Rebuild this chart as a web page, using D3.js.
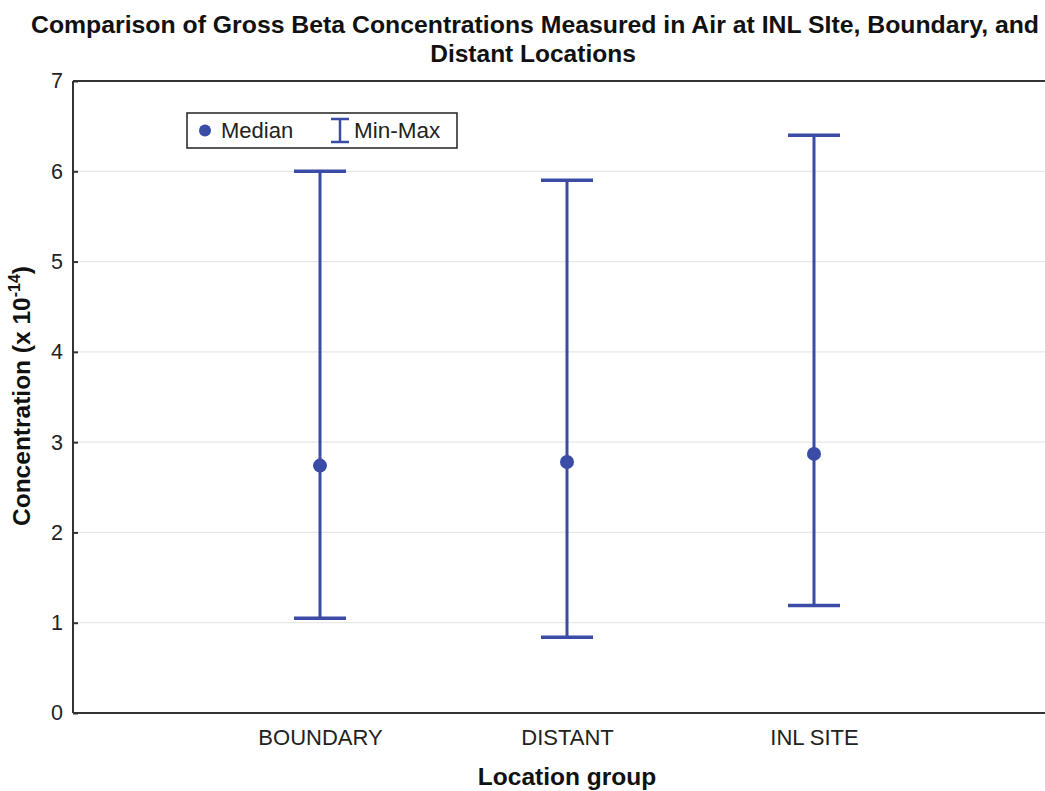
<!DOCTYPE html>
<html>
<head>
<meta charset="utf-8">
<script src="https://cdn.jsdelivr.net/npm/d3@7"></script>
<style>
  html, body { margin: 0; padding: 0; background: #fff; }
  svg { display: block; font-family: "Liberation Sans", Arial, sans-serif; }
</style>
</head>
<body>
<svg id="chart" width="1045" height="791"></svg>
<script>
// Gross beta concentrations (x 10^-14) by location group
const categories = ["BOUNDARY", "DISTANT", "INL SITE"];
const medians = [2.74, 2.78, 2.87];
const minima = [1.05, 0.84, 1.19];
const maxima = [6.0, 5.9, 6.4];
const yTicks = [0, 1, 2, 3, 4, 5, 6, 7];

const data = categories.map((c, i) => ({ cat: c, med: medians[i], lo: minima[i], hi: maxima[i] }));

const svg = d3.select("#chart");
const W = 1045, H = 791;
const margin = { left: 73, top: 81, bottom: 713, right: 1061 };
const blue = "#3a4ca6";
const FONT = "Liberation Sans, Arial, sans-serif";

const x = d3.scalePoint().domain(categories).range([margin.left, margin.right]).padding(1);
const y = d3.scaleLinear().domain([0, 7]).range([margin.bottom, margin.top]);

// Title
const title = svg.append("g").attr("font-weight", "bold").attr("text-anchor", "middle").attr("fill", "#111");
title.append("text").attr("x", 535).attr("y", 33).attr("font-size", 23.5)
  .attr("textLength", 1008).attr("lengthAdjust", "spacingAndGlyphs")
  .text("Comparison of Gross Beta Concentrations Measured in Air at INL SIte, Boundary, and");
title.append("text").attr("x", 533).attr("y", 62).attr("font-size", 24.5).text("Distant Locations");

// Grid lines
svg.append("g").selectAll("line").data(yTicks.filter(t => t > 0 && t < 7)).join("line")
  .attr("x1", margin.left).attr("x2", W)
  .attr("y1", d => y(d)).attr("y2", d => y(d))
  .attr("stroke", "#e8e8e8").attr("stroke-width", 1.2);

// Frame: left axis, bottom axis, top border
const frame = svg.append("g").attr("stroke", "#333").attr("stroke-width", 2).attr("fill", "none");
frame.append("line").attr("x1", margin.left).attr("x2", margin.left).attr("y1", margin.top).attr("y2", margin.bottom);
frame.append("line").attr("x1", margin.left).attr("x2", W).attr("y1", margin.bottom).attr("y2", margin.bottom);
frame.append("line").attr("x1", margin.left).attr("x2", W).attr("y1", margin.top).attr("y2", margin.top);

// Y axis ticks and labels
const yAxis = d3.axisLeft(y).tickValues(yTicks).tickSize(-5).tickPadding(10).tickFormat(d3.format("d"));
const gy = svg.append("g").attr("transform", `translate(${margin.left},0)`).call(yAxis);
gy.select(".domain").remove();
gy.selectAll(".tick line").attr("stroke", "#333").attr("stroke-width", 2);
gy.selectAll(".tick text").attr("font-size", 21.5).attr("fill", "#222").attr("font-family", FONT);

// X axis labels
const xAxis = d3.axisBottom(x).tickSize(0).tickPadding(16);
const gx = svg.append("g").attr("transform", `translate(0,${margin.bottom})`).call(xAxis);
gx.select(".domain").remove();
gx.selectAll(".tick text").attr("font-size", 22).attr("fill", "#222").attr("font-family", FONT);

// Axis titles
svg.append("text").attr("x", 567).attr("y", 785).attr("text-anchor", "middle")
  .attr("font-weight", "bold").attr("font-size", 24.5).attr("fill", "#111").text("Location group");
const yl = svg.append("text").attr("transform", "translate(30,396) rotate(-90)").attr("text-anchor", "middle")
  .attr("font-weight", "bold").attr("font-size", 24.5).attr("fill", "#111");
yl.append("tspan").text("Concentration (x 10");
yl.append("tspan").attr("dy", -10).attr("font-size", 16).text("-14");
yl.append("tspan").attr("dy", 10).text(")");

// Min-max whiskers and medians
const capHalf = 26;
const marks = svg.append("g");
const grp = marks.selectAll("g").data(data).join("g");
grp.append("line").attr("x1", d => x(d.cat)).attr("x2", d => x(d.cat))
  .attr("y1", d => y(d.lo)).attr("y2", d => y(d.hi))
  .attr("stroke", blue).attr("stroke-width", 3);
grp.append("line").attr("x1", d => x(d.cat) - capHalf).attr("x2", d => x(d.cat) + capHalf)
  .attr("y1", d => y(d.hi)).attr("y2", d => y(d.hi))
  .attr("stroke", blue).attr("stroke-width", 3.5);
grp.append("line").attr("x1", d => x(d.cat) - capHalf).attr("x2", d => x(d.cat) + capHalf)
  .attr("y1", d => y(d.lo)).attr("y2", d => y(d.lo))
  .attr("stroke", blue).attr("stroke-width", 3.5);
grp.append("circle").attr("cx", d => x(d.cat)).attr("cy", d => y(d.med)).attr("r", 7).attr("fill", blue);

// Legend
const lg = svg.append("g").attr("transform", "translate(187,113)");
lg.append("rect").attr("width", 270).attr("height", 35).attr("fill", "#fff").attr("stroke", "#222").attr("stroke-width", 1.5);
lg.append("circle").attr("cx", 18).attr("cy", 17.5).attr("r", 6).attr("fill", blue);
lg.append("text").attr("x", 34).attr("y", 25).attr("font-size", 22).attr("fill", "#222").text("Median");
const ic = lg.append("g").attr("stroke", blue).attr("stroke-width", 2.5);
ic.append("line").attr("x1", 153).attr("x2", 153).attr("y1", 6).attr("y2", 29);
ic.append("line").attr("x1", 144).attr("x2", 162).attr("y1", 6).attr("y2", 6);
ic.append("line").attr("x1", 144).attr("x2", 162).attr("y1", 29).attr("y2", 29);
lg.append("text").attr("x", 167).attr("y", 25).attr("font-size", 22.5).attr("fill", "#222").text("Min-Max");
</script>
</body>
</html>
